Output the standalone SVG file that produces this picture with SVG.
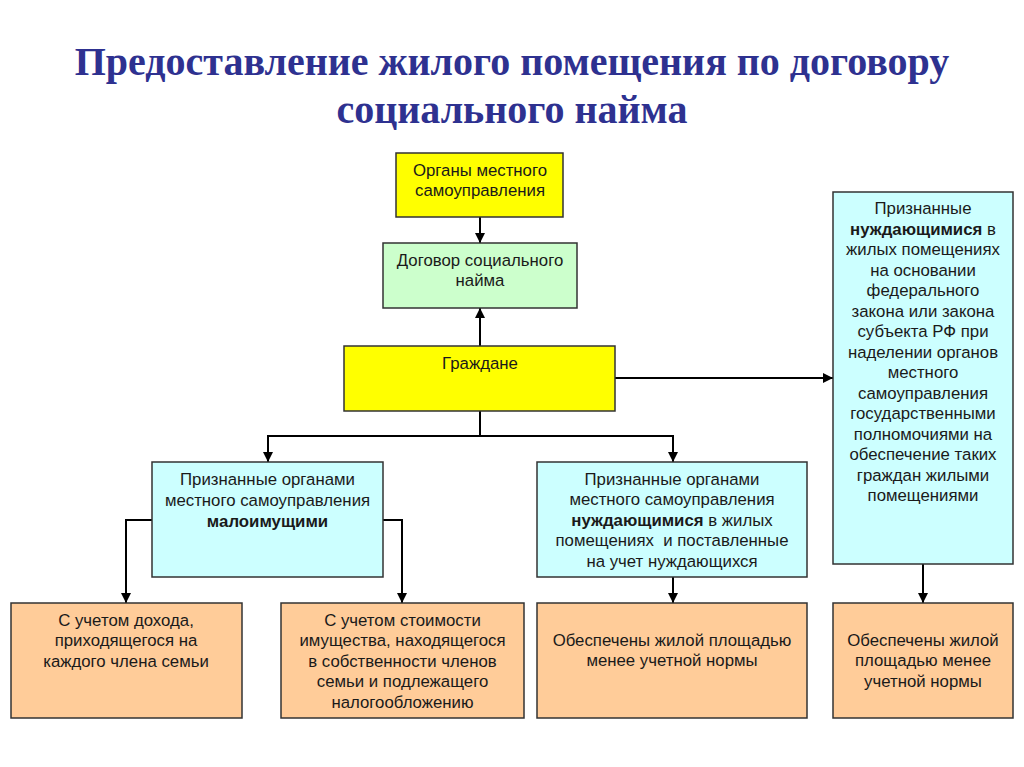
<svg xmlns="http://www.w3.org/2000/svg" width="1024" height="767" viewBox="0 0 1024 767">
<style>
.title{font-family:"Liberation Serif","Times New Roman",serif;font-weight:bold;font-size:40px;fill:#2E3190;text-anchor:middle}
.t{font-family:"Liberation Sans",Arial,sans-serif;font-size:16.8px;fill:#1a1a1a;text-anchor:middle}
.b{font-weight:bold}
.box{stroke:#333333;stroke-width:1.5}
.yel{fill:#FFFF00}
.grn{fill:#CCFFCC}
.cyn{fill:#CCFFFF}
.org{fill:#FFCC99}
.c{fill:none;stroke:#000;stroke-width:2}
</style>
<defs>
<marker id="ah" viewBox="0 0 10 10" refX="10" refY="5" markerWidth="10" markerHeight="10" markerUnits="userSpaceOnUse" orient="auto">
<path d="M0,0 L10,5 L0,10 Z" fill="#000"/>
</marker>
</defs>
<rect width="1024" height="767" fill="#fff"/>
<g id="title">
<text class="title" x="512" y="75">Предоставление жилого помещения по договору</text>
<text class="title" x="512" y="123">социального найма</text>
</g>
<g id="connectors">
<path class="c" d="M480,217 V243" marker-end="url(#ah)"/>
<path class="c" d="M480,346 V308" marker-end="url(#ah)"/>
<path class="c" d="M615,378 H833" marker-end="url(#ah)"/>
<path class="c" d="M480,411 V436"/>
<path class="c" d="M480,436 H268 V462" marker-end="url(#ah)"/>
<path class="c" d="M480,436 H673 V462" marker-end="url(#ah)"/>
<path class="c" d="M152,520 H126 V603" marker-end="url(#ah)"/>
<path class="c" d="M383,520 H402 V603" marker-end="url(#ah)"/>
<path class="c" d="M673,577 V603" marker-end="url(#ah)"/>
<path class="c" d="M923,564 V603" marker-end="url(#ah)"/>
</g>
<g id="organy">
<rect class="box yel" x="396" y="153" width="167" height="64"/>
<text class="t" x="480" y="176">Органы местного</text>
<text class="t" x="480" y="196">самоуправления</text>
</g>
<g id="dogovor">
<rect class="box grn" x="383" y="243" width="194" height="65"/>
<text class="t" x="480" y="266">Договор социального</text>
<text class="t" x="480" y="286">найма</text>
</g>
<g id="grazhdane">
<rect class="box yel" x="344" y="346" width="271" height="65"/>
<text class="t" x="480" y="369">Граждане</text>
</g>
<g id="malo">
<rect class="box cyn" x="152" y="462" width="231" height="115"/>
<text class="t" x="267.5" y="485">Признанные органами</text>
<text class="t" x="267.5" y="506">местного самоуправления</text>
<text class="t b" x="267.5" y="527">малоимущими</text>
</g>
<g id="nuzhd">
<rect class="box cyn" x="537" y="462" width="270" height="115"/>
<text class="t" x="672" y="485">Признанные органами</text>
<text class="t" x="672" y="505">местного самоуправления</text>
<text class="t" x="672" y="526"><tspan class="b">нуждающимися</tspan> в жилых</text>
<text class="t" x="672" y="546" style="white-space:pre">помещениях  и поставленные</text>
<text class="t" x="672" y="567">на учет нуждающихся</text>
</g>
<g id="pravo">
<rect class="box cyn" x="833" y="192" width="180" height="372"/>
<text class="t" x="923" y="214">Признанные</text>
<text class="t" x="923" y="235"><tspan class="b">нуждающимися</tspan> в</text>
<text class="t" x="923" y="255">жилых помещениях</text>
<text class="t" x="923" y="276">на основании</text>
<text class="t" x="923" y="296">федерального</text>
<text class="t" x="923" y="317">закона или закона</text>
<text class="t" x="923" y="337">субъекта РФ при</text>
<text class="t" x="923" y="358">наделении органов</text>
<text class="t" x="923" y="378">местного</text>
<text class="t" x="923" y="399">самоуправления</text>
<text class="t" x="923" y="419">государственными</text>
<text class="t" x="923" y="440">полномочиями на</text>
<text class="t" x="923" y="460">обеспечение таких</text>
<text class="t" x="923" y="481">граждан жилыми</text>
<text class="t" x="923" y="501">помещениями</text>
</g>
<g id="dohod">
<rect class="box org" x="11" y="603" width="231" height="115"/>
<text class="t" x="126" y="626">С учетом дохода,</text>
<text class="t" x="126" y="646">приходящегося на</text>
<text class="t" x="126" y="667">каждого члена семьи</text>
</g>
<g id="imush">
<rect class="box org" x="281" y="603" width="243" height="115"/>
<text class="t" x="402.5" y="626">С учетом стоимости</text>
<text class="t" x="402.5" y="646">имущества, находящегося</text>
<text class="t" x="402.5" y="667">в собственности членов</text>
<text class="t" x="402.5" y="687">семьи и подлежащего</text>
<text class="t" x="402.5" y="708">налогообложению</text>
</g>
<g id="norma1">
<rect class="box org" x="537" y="603" width="270" height="115"/>
<text class="t" x="672" y="646">Обеспечены жилой площадью</text>
<text class="t" x="672" y="666">менее учетной нормы</text>
</g>
<g id="norma2">
<rect class="box org" x="833" y="603" width="180" height="115"/>
<text class="t" x="923" y="646">Обеспечены жилой</text>
<text class="t" x="923" y="666">площадью менее</text>
<text class="t" x="923" y="687">учетной нормы</text>
</g>
</svg>
